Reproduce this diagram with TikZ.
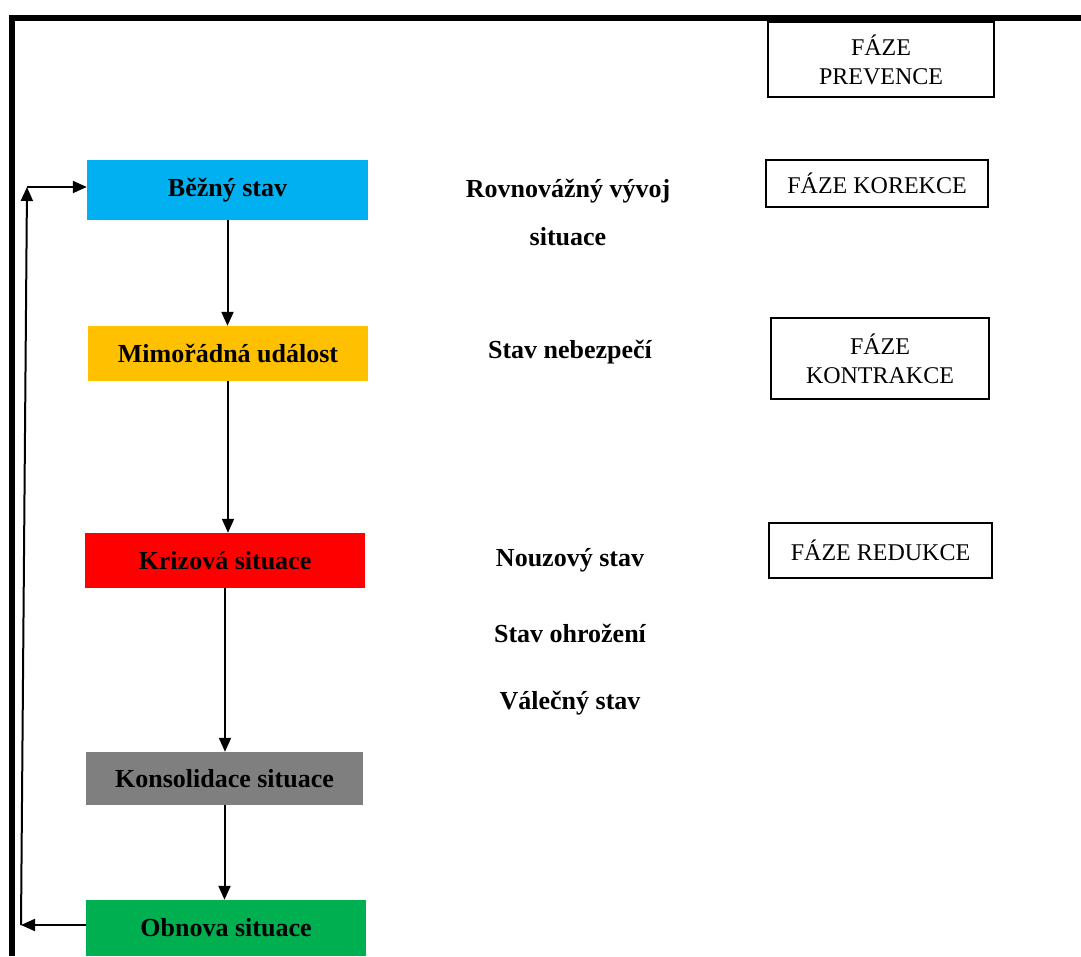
\documentclass[tikz,border=0pt]{standalone}
\usepackage{fontspec}
\setmainfont{Liberation Serif}
\usetikzlibrary{arrows.meta}
\definecolor{cblue}{HTML}{00B0F0}
\definecolor{corange}{HTML}{FFC000}
\definecolor{cred}{HTML}{FF0000}
\definecolor{cgray}{HTML}{7F7F7F}
\definecolor{cgreen}{HTML}{00B050}
\begin{document}
\begin{tikzpicture}[x=1pt,y=-1pt,
 state/.style={inner sep=0pt, font=\fontsize{26}{30}\selectfont\bfseries},
 phase/.style={draw, line width=1.4pt, inner sep=0pt, align=center, font=\fontsize{24}{29}\selectfont},
 lbl/.style={align=center, inner sep=0pt, font=\fontsize{26}{48}\selectfont\bfseries},
 arr/.style={line width=2pt, -{Triangle[length=14pt,width=12pt]}}]
\useasboundingbox (0,0) rectangle (1081,956);
\draw[line width=6pt] (12,956) -- (12,17.5) -- (1081,17.5);

\node[state, fill=cblue, minimum width=281, minimum height=60] (b) at (227.5,190) {Běžný stav};
\node[state, fill=corange, minimum width=280, minimum height=55] (m) at (228,353.5) {Mimořádná událost};
\node[state, fill=cred, minimum width=280, minimum height=55] (k) at (225,560.5) {Krizová situace};
\node[state, fill=cgray, minimum width=277, minimum height=53] (ks) at (224.5,778.5) {Konsolidace situace};
\node[state, fill=cgreen, minimum width=280, minimum height=56] (o) at (226,928) {Obnova situace};

\node[phase, minimum width=226, minimum height=75] (p1) at (881,59.5) {FÁZE\\PREVENCE};
\node[phase, minimum width=222, minimum height=47] (p2) at (877,183.5) {FÁZE KOREKCE};
\node[phase, minimum width=218, minimum height=81] (p3) at (880,358.5) {FÁZE\\KONTRAKCE};
\node[phase, minimum width=223, minimum height=55] (p4) at (880.5,550.5) {FÁZE REDUKCE};

\node[lbl] (l1) at (568,212) {Rovnovážný vývoj\\situace};
\node[lbl] (l2) at (570,352) {Stav nebezpečí};
\node[lbl] (l3) at (570,560) {Nouzový stav};
\node[lbl] (l4) at (570,633) {Stav ohrožení};
\node[lbl] (l5) at (570,703) {Válečný stav};

\draw[arr] (b.south) -- (b.south |- m.north);
\draw[arr] (m.south) -- (m.south |- k.north);
\draw[arr] (k.south) -- (k.south |- ks.north);
\draw[arr] (ks.south) -- (ks.south |- o.north);

\coordinate (lb) at (21,925);
\coordinate (lt) at (27,187);
\draw[arr] (o.west |- lb) -- (lb);
\draw[arr] (lb) -- (lt);
\draw[arr] (lt) -- (lt -| b.west);
\end{tikzpicture}
\end{document}
